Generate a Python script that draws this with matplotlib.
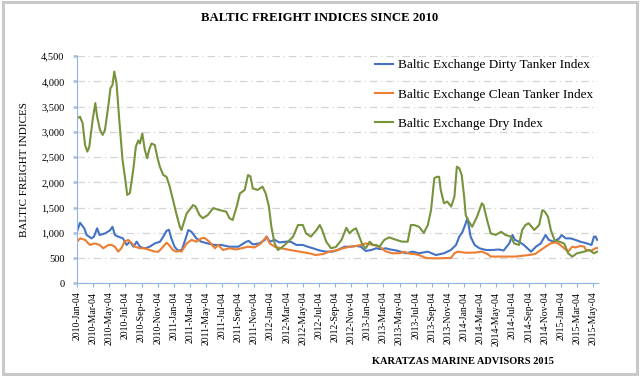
import numpy as np
import pandas as pd
import matplotlib
matplotlib.use('Agg')
import matplotlib.pyplot as plt
from matplotlib.patches import Rectangle
from matplotlib.ticker import FuncFormatter

# months since 2010-Jan-04 and index values
dry_m = [0, 0.37, 0.7, 1.0, 1.28, 1.52, 1.94, 2.27, 2.5, 2.85, 3.18, 3.47, 3.87, 4.15, 4.4, 4.62, 4.9,
         5.24, 5.65, 5.94, 6.23, 6.56, 6.97, 7.3, 7.6, 7.8, 8.1, 8.4, 8.7, 8.95, 9.24, 9.65, 9.94,
         10.27, 10.7, 11.1, 11.5, 11.9, 12.3, 12.75, 12.95, 13.6, 14.4, 14.7, 15.2, 15.6, 16.2, 16.9,
         17.7, 18.5, 18.9, 19.3, 19.8, 20.2, 20.8, 21.2, 21.5, 21.8, 22.4, 23.0, 23.4, 23.8, 24.1,
         24.5, 24.9, 25.5, 26.0, 26.8, 27.4, 28.0, 28.4, 29.0, 29.7, 30.1, 30.4, 30.9, 31.5, 32.1,
         32.8, 33.4, 33.8, 34.2, 34.6, 35.0, 35.4, 35.8, 36.3, 36.7, 37.1, 37.5, 38.1, 38.7, 39.6,
         40.3, 41.0, 41.4, 41.8, 42.4, 43.0, 43.5, 43.9, 44.3, 44.6, 44.9, 45.1, 45.5, 45.9, 46.4,
         46.8, 47.1, 47.4, 47.7, 48.0, 48.2, 48.6, 49.0, 49.6, 50.2, 50.4, 50.9, 51.3, 51.9, 52.6,
         53.1, 53.8, 54.2, 54.8, 55.2, 55.6, 56.0, 56.7, 57.3, 57.7, 58.0, 58.4, 58.75, 59.2, 59.8,
         60.4, 60.9, 61.4, 62.0, 62.9, 63.5, 64.1, 64.5]
dry_v = [3270, 3300, 3170, 2740, 2610, 2700, 3240, 3570, 3300, 3040, 2940, 3040, 3500, 3865, 3930, 4195, 3965,
         3240, 2440, 2110, 1750, 1790, 2245, 2710, 2830, 2770, 2970, 2650, 2480, 2650, 2770, 2740, 2510,
         2310, 2145, 2110, 1915, 1650, 1390, 1120, 1056, 1387, 1550, 1520, 1350, 1290, 1350, 1490,
         1450, 1420, 1290, 1255, 1520, 1780, 1850, 2145, 2120, 1880, 1850, 1915, 1780, 1520, 1120,
         790, 660, 725, 800, 925, 1155, 1155, 990, 925, 1056, 1155, 1056, 825, 694, 720,
         860, 1100, 990, 1056, 1090, 925, 760, 694, 825, 760, 760, 725, 860, 910, 860,
         825, 825, 1155, 1155, 1120, 1000, 1155, 1450, 2080, 2110, 2110, 1850, 1585, 1620, 1520,
         1720, 2310, 2280, 2145, 1720, 1350, 1220, 1120, 1320, 1585, 1550, 1220, 990, 960, 1020,
         960, 925, 790, 760, 1056, 1155, 1190, 1056, 1155, 1450, 1420, 1320, 1056, 860, 825,
         790, 595, 527, 595, 627, 660, 595, 627]

dirty_m = [0, 0.37, 0.9, 1.2, 1.8, 2.1, 2.5, 2.8, 3.5, 4.1, 4.4, 4.7, 5.1, 5.7, 6.15, 6.56, 7.0, 7.4,
           7.8, 8.4, 9.0, 9.65, 10.3, 10.7, 11.1, 11.4, 11.7, 12.1, 12.5, 13.0, 13.5, 13.8, 14.2, 14.8,
           15.4, 16.2, 17.0, 17.9, 18.9, 20.0, 21.0, 21.3, 21.8, 22.6, 23.3, 23.5, 23.9, 24.5, 25.1,
           25.9, 26.5, 27.2, 28.0, 28.6, 29.25, 30.1, 30.9, 31.7, 32.3, 33.2, 34.0, 34.6, 35.2, 35.8,
           36.5, 37.1, 37.7, 38.3, 38.7, 39.6, 40.8, 41.6, 42.4, 43.5, 44.5, 45.5, 46.35, 47.0, 47.4,
           47.8, 48.2, 48.4, 48.6, 48.8, 49.3, 49.9, 50.7, 51.5, 52.3, 52.9, 53.6, 54.0, 54.3, 54.8,
           55.4, 56.3, 56.9, 57.5, 58.1, 58.5, 59.1, 59.8, 60.1, 60.6, 61.2, 61.8, 62.4, 63.0, 63.8,
           64.1, 64.3, 64.5]
dirty_v = [1020, 1200, 1090, 957, 890, 925, 1090, 957, 990, 1050, 1120, 957, 925, 890, 760, 825, 725, 825,
           725, 690, 725, 790, 825, 925, 1040, 1060, 890, 725, 650, 660, 900, 1056, 1020, 890,
           825, 790, 760, 760, 725, 725, 825, 840, 770, 790, 860, 925, 825, 860, 810,
           825, 825, 760, 760, 725, 694, 650, 627, 627, 660, 725, 725, 740, 725, 640,
           660, 694, 675, 694, 675, 650, 595, 627, 595, 627, 560, 595, 660, 760, 925,
           1020, 1190, 1290, 1120, 925, 760, 694, 660, 660, 670, 650, 790, 957, 860, 825,
           760, 627, 725, 790, 957, 860, 825, 890, 957, 890, 890, 860, 825, 800, 760,
           925, 925, 860]

clean_m = [0, 0.4, 1.0, 1.6, 2.2, 2.8, 3.25, 3.9, 4.3, 4.7, 5.1, 5.5, 5.9, 6.35, 6.8, 7.2, 7.8, 8.4,
           9.0, 9.65, 10.1, 10.5, 11.1, 11.4, 11.9, 12.3, 12.7, 12.95, 13.6, 14.2, 14.8, 15.4, 15.8,
           16.4, 17.1, 17.5, 18.1, 18.9, 19.7, 20.4, 21.2, 22.0, 22.8, 23.5, 23.9, 24.5, 25.3, 26.4,
           27.6, 28.8, 29.6, 30.5, 31.3, 32.1, 33.0, 33.8, 34.6, 35.2, 35.8, 36.7, 37.5, 38.3, 39.1,
           40.0, 40.6, 41.0, 41.8, 42.4, 43.3, 44.1, 44.9, 45.7, 46.35, 46.8, 47.2, 48.2, 49.4, 50.2,
           50.9, 51.3, 52.3, 53.3, 54.3, 55.2, 56.0, 56.8, 57.5, 58.1, 58.7, 59.3, 59.8, 60.4, 60.9,
           61.4, 61.8, 62.4, 62.9, 63.1, 63.8, 64.3, 64.5]
clean_v = [825, 890, 860, 760, 790, 760, 694, 760, 760, 725, 627, 694, 825, 860, 790, 725, 694, 694,
           660, 627, 627, 694, 805, 760, 660, 627, 640, 627, 790, 860, 825, 890, 900,
           825, 694, 760, 660, 694, 670, 694, 725, 710, 790, 925, 790, 725, 694, 660,
           627, 595, 560, 580, 627, 650, 694, 725, 740, 760, 790, 760, 725, 630, 595,
           595, 627, 595, 580, 560, 500, 495, 495, 500, 500, 595, 627, 605, 610, 627,
           580, 530, 530, 530, 530, 545, 560, 580, 660, 725, 790, 810, 775, 694, 627,
           725, 710, 740, 725, 660, 650, 694, 700]

tick_dates = pd.date_range('2010-01-01', '2015-05-01', freq='2MS')
tick_labels = [d.strftime('%Y-%b-04') for d in tick_dates]
tick_pos = np.arange(len(tick_dates)) * 2

plt.rcParams['font.family'] = ['Liberation Serif', 'DejaVu Serif']

fig = plt.figure(figsize=(6.4, 3.76), dpi=100)
fig.patches.append(Rectangle((0.004, 0.006), 0.992, 0.988, transform=fig.transFigure,
                             fill=False, edgecolor='#c9c9c9', linewidth=2.2))

ax = fig.add_axes([77 / 640, 1 - 283.3 / 376, (598 - 77) / 640, (283.3 - 56.2) / 376])
ax.plot(dirty_m, dirty_v, color='#4472C4', lw=1.5, label='Baltic Exchange Dirty Tanker Index')
ax.plot(clean_m, clean_v, color='#ED7D31', lw=1.5, label='Baltic Exchange Clean Tanker Index')
ax.plot(dry_m, dry_v, color='#77933C', lw=1.5, label='Baltic Exchange Dry Index')

ax.set_xlim(0, 64.6)
ax.set_ylim(0, 4500)
ax.set_yticks(np.arange(0, 4501, 500))
ax.yaxis.set_major_formatter(FuncFormatter(lambda v, p: f'{int(v):,}'))
ax.set_xticks(tick_pos)
ax.set_xticklabels(tick_labels, rotation=90, fontsize=7)
ax.tick_params(axis='y', labelsize=7.5, length=3, width=2, color='#b4c4de', pad=6)
ax.tick_params(axis='x', length=3, width=0.8, color='#8eb4e3', pad=3)
ax.grid(axis='y', color='#d4d4d4', lw=0.9, linestyle=(0, (6, 3, 1, 3)))
ax.set_axisbelow(True)
for s in ['top', 'right']:
    ax.spines[s].set_visible(False)
ax.spines['left'].set_color('#8eb4e3')
ax.spines['bottom'].set_color('#8eb4e3')

ax.set_ylabel('BALTIC FREIGHT INDICES', fontsize=8)
ax.yaxis.set_label_coords(-0.092, 0.5)

fig.text(0.5, 1 - 18 / 376, 'BALTIC FREIGHT INDICES SINCE 2010', ha='center', va='center',
         fontsize=9.2, fontweight='bold')
fig.text(463 / 640, 1 - 362 / 376, 'KARATZAS MARINE ADVISORS 2015', ha='center', va='center',
         fontsize=7.5, fontweight='bold')

ax.legend(loc='upper left', bbox_to_anchor=(375 / 640, 1 - 59 / 376), bbox_transform=fig.transFigure,
          frameon=False, fontsize=9.5, handlelength=1.4, handletextpad=0.35, labelspacing=1.3,
          borderpad=0, borderaxespad=0)

fig.savefig('out.png', dpi=100)
